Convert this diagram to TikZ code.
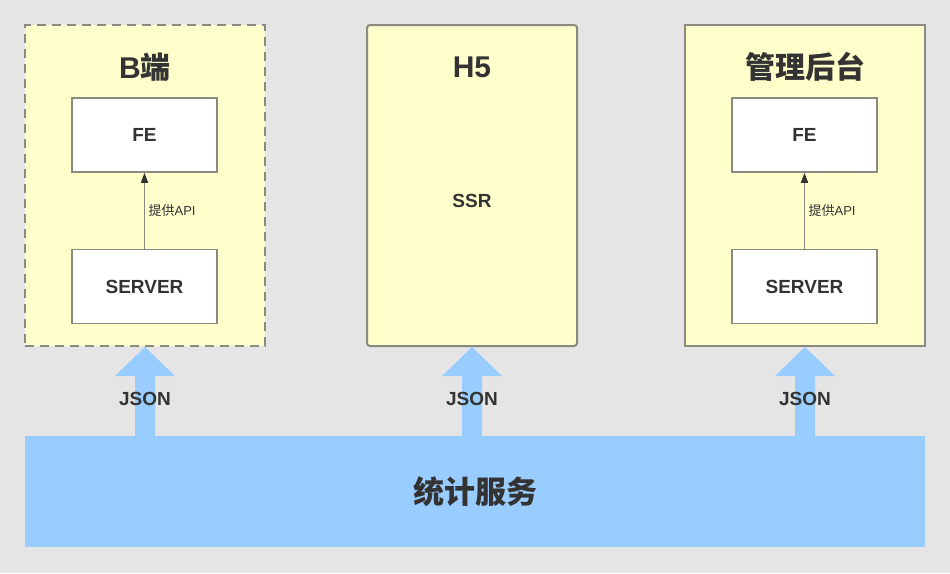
\documentclass[tikz,border=0pt]{standalone}
\usepackage{fontspec}
\setmainfont{Liberation Sans}
\newfontfamily\cjk{Noto Sans CJK SC}
\usepackage{xcolor}
\usetikzlibrary{positioning, calc, arrows.meta}

\definecolor{bggray}{HTML}{E5E5E5}
\definecolor{paleyellow}{HTML}{FFFFCC}
\definecolor{boxgray}{HTML}{8A8A80}
\definecolor{txtgray}{HTML}{333333}
\definecolor{statblue}{HTML}{99CCFF}

\begin{document}
\begin{tikzpicture}[
    x=1pt, y=-1pt,
    line width=1.5pt,
    every node/.style={align=center, text=txtgray},
    group/.style={draw=boxgray, fill=paleyellow, line width=2pt, minimum width=240pt, minimum height=321pt, inner sep=0pt},
    dashedgroup/.style={group, dash pattern=on 9pt off 6pt},
    title/.style={font=\fontsize{30}{36}\selectfont\bfseries},
    part/.style={draw=boxgray, fill=white, minimum width=145pt, minimum height=74pt, inner sep=0pt, font=\fontsize{19}{23}\selectfont\bfseries},
    plain/.style={font=\fontsize{19}{23}\selectfont\bfseries},
    api/.style={-{Triangle[length=10pt, width=7pt, color=txtgray]}, draw=boxgray},
    apilabel/.style={font=\fontsize{13}{15}\selectfont},
    fatarrow/.style={fill=statblue},
    stats/.style={fill=statblue, minimum width=900pt, minimum height=111pt, inner sep=0pt, font=\fontsize{31}{36}\selectfont\bfseries}
]

% Background
\fill[bggray] (0,0) rectangle (950,573);
\useasboundingbox (0,0) rectangle (950,573);

% Groups
\node[dashedgroup] (bside) at (145,185.5) {};
\node[group, rounded corners=3pt, minimum width=210pt] (h5) at (472,185.5) {};
\node[group] (admin) at (805,185.5) {};

% Titles
\node[title] (btitle) at ($(bside.north)+(0,43)$) {B{\cjk 端}};
\node[title] (h5title) at ($(h5.north)+(0,43)$) {H5};
\node[title] (admintitle) at ($(admin.north)+(0,43)$) {\cjk 管理后台};

% Parts
\node[part] (bfe) at (144.5,135) {FE};
\node[part, below=76pt of bfe] (bserver) {SERVER};
\node[plain] (ssr) at (472,201) {SSR};
\node[part] (adminfe) at (804.5,135) {FE};
\node[part, below=76pt of adminfe] (adminserver) {SERVER};

% Arrows
\draw[api] (bserver) -- node[right, apilabel] {{\cjk 提供}API} (bfe);
\draw[api] (adminserver) -- node[right, apilabel] {{\cjk 提供}API} (adminfe);

\foreach \b in {bside, h5, admin} {
    \fill[fatarrow] (\b.south) -- ++(30,29) -- ++(-20,0) -- ++(0,70) -- ++(-20,0) -- ++(0,-70) -- ++(-20,0) -- cycle;
    \node[plain] (json-\b) at ($(\b.south)+(0,52)$) {JSON};
}

% Stats bar
\node[stats] (stats) at (475,491.5) {\cjk 统计服务};

\end{tikzpicture}
\end{document}
